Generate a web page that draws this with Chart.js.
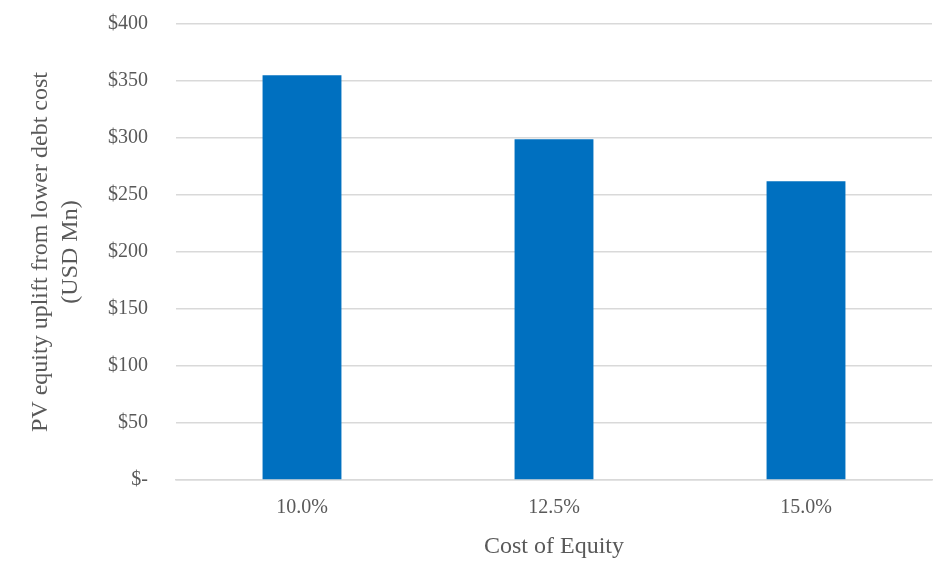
<!DOCTYPE html>
<html>
<head>
<meta charset="utf-8">
<script src="https://cdn.jsdelivr.net/npm/chart.js@4/dist/chart.umd.min.js"></script>
<style>
  html, body { margin: 0; padding: 0; background: #ffffff; }
  #wrap { width: 941px; height: 561px; position: relative; }
</style>
</head>
<body>
<div id="wrap"><canvas id="chart"></canvas></div>
<script>
// Cost of equity scenarios and present-value equity uplift (USD Mn)
const categories = ['10.0%', '12.5%', '15.0%'];
const upliftValues = [355, 299, 262];
const yTitleLines = ['PV equity uplift from lower debt cost', '(USD Mn)'];
const xTitle = 'Cost of Equity';

const FONT = "'Liberation Serif', 'Times New Roman', serif";
const TEXT = '#595959';
const GRID = '#d9d9d9';

new Chart(document.getElementById('chart'), {
  type: 'bar',
  data: {
    labels: categories,
    datasets: [{
      data: upliftValues,
      backgroundColor: '#0070c0',
      borderWidth: 0,
      categoryPercentage: 1,
      barPercentage: 0.313
    }]
  },
  options: {
    responsive: true,
    maintainAspectRatio: false,
    animation: false,
    layout: { padding: { top: 24, right: 9, left: 0, bottom: 0 } },
    plugins: { legend: { display: false }, tooltip: { enabled: false } },
    scales: {
      x: {
        grid: { display: false, drawTicks: false },
        border: { display: true, color: GRID, width: 1.5 },
        ticks: { color: TEXT, font: { family: FONT, size: 20 }, padding: 16 },
        title: { display: true, text: xTitle, color: TEXT, font: { family: FONT, size: 24 }, padding: { top: 2, bottom: 0 } },
        afterFit: (s) => { s.height = 81; s.paddingLeft = 0; s.paddingRight = 0; }
      },
      y: {
        min: 0, max: 400,
        ticks: {
          stepSize: 50, color: TEXT, font: { family: FONT, size: 20 }, padding: 28,
          callback: (v) => v === 0 ? '$-' : '$' + v
        },
        grid: { color: GRID, lineWidth: 1.5, drawTicks: false },
        border: { display: false },
        title: { display: true, text: yTitleLines, color: TEXT, font: { family: FONT, size: 24, lineHeight: 1.25 }, padding: { top: 26, bottom: 0 } },
        afterFit: (s) => { s.width = 176; s.paddingTop = 0; s.paddingBottom = 0; }
      }
    }
  }
});
</script>
</body>
</html>
